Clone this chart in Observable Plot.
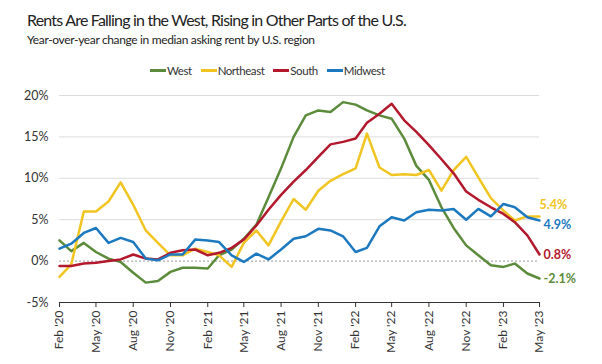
<!DOCTYPE html>
<html>
<head>
<meta charset="utf-8">
<script src="https://cdn.jsdelivr.net/npm/d3@7"></script>
<script src="https://cdn.jsdelivr.net/npm/@observablehq/plot@0.6"></script>
<style>
  body { margin: 0; background: #fff; }
  #chart { width: 602px; height: 364px; position: relative; overflow: hidden; font-family: Lato, "Open Sans", sans-serif; color: #222; }
  #header { position: relative; height: 82px; }
  #title { position: absolute; left: 27px; top: 10px; font-size: 16px; white-space: nowrap; letter-spacing: -0.8px; }
  #subtitle { position: absolute; left: 27px; top: 32px; font-size: 12px; white-space: nowrap; letter-spacing: -0.35px; color: #222; }
  #legend { position: absolute; left: 150px; top: 64px; display: flex; gap: 9px; font-size: 11.5px; letter-spacing: -0.45px; color: #333; white-space: nowrap; }
  .item { display: flex; align-items: center; }
  .sw { display: inline-block; width: 16px; height: 3px; margin-right: 1px; }
  svg { display: block; }
</style>
</head>
<body>
<div id="chart">
  <div id="header">
    <div id="title"></div>
    <div id="subtitle"></div>
    <div id="legend"></div>
  </div>
  <div id="plot"></div>
</div>
<script>
// ---- data ----
const titleText = "Rents Are Falling in the West, Rising in Other Parts of the U.S.";
const subtitleText = "Year-over-year change in median asking rent by U.S. region";
const regions = ["West", "Northeast", "South", "Midwest"];
const colors = ["#5b8b3b", "#f1c521", "#b3182d", "#1c79bf"];
const firstMonth = [2020, 1]; // Feb 2020 (UTC month index)
const west = [2.5, 1.2, 2.2, 1.1, 0.3, -0.1, -1.4, -2.6, -2.4, -1.3, -0.8, -0.8, -0.9, 0.7, 1.4, 2.7, 4.4, 7.7, 11.2, 15.0, 17.6, 18.2, 18.0, 19.2, 18.9, 18.2, 17.6, 17.2, 14.8, 11.5, 9.8, 6.5, 4.0, 1.9, 0.7, -0.5, -0.7, -0.3, -1.5, -2.1];
const northeast = [-1.9, -0.4, 6.0, 6.0, 7.2, 9.5, 6.8, 3.7, 2.2, 0.7, 0.7, 1.5, 1.1, 0.7, -0.7, 2.2, 3.7, 1.9, 4.8, 7.5, 6.2, 8.5, 9.7, 10.5, 11.2, 15.4, 11.3, 10.4, 10.5, 10.4, 11.0, 8.5, 11.0, 12.6, 10.1, 7.6, 6.1, 4.9, 5.4, 5.4];
const south = [-0.6, -0.6, -0.3, -0.2, 0.0, 0.2, 0.8, 0.3, 0.2, 1.0, 1.3, 1.4, 0.7, 1.0, 1.6, 2.6, 4.3, 6.2, 8.0, 9.6, 11.0, 12.6, 14.1, 14.4, 14.8, 16.7, 17.8, 19.0, 17.0, 15.6, 14.0, 12.3, 10.6, 8.4, 7.4, 6.5, 5.7, 4.7, 3.1, 0.8];
const midwest = [1.5, 2.1, 3.4, 4.0, 2.2, 2.8, 2.3, 0.3, 0.1, 0.8, 0.8, 2.6, 2.5, 2.3, 0.7, -0.1, 0.9, 0.2, 1.4, 2.7, 3.0, 3.9, 3.7, 3.0, 1.1, 1.6, 4.2, 5.3, 4.9, 5.9, 6.2, 6.1, 6.3, 5.0, 6.3, 5.4, 6.9, 6.5, 5.3, 4.9];
const endLabels = ["-2.1%", "5.4%", "0.8%", "4.9%"];
const tickLabels = ["Feb '20","May '20","Aug '20","Nov '20","Feb '21","May '21","Aug '21","Nov '21","Feb '22","May '22","Aug '22","Nov '22","Feb '23","May '23"];
const yTicks = [-5, 0, 5, 10, 15, 20];
const gridValues = [5, 10, 15, 20];

// ---- build table ----
const series = [west, northeast, south, midwest];
const months = west.map((_, i) => new Date(Date.UTC(firstMonth[0], firstMonth[1] + i, 1)));
const rows = [];
regions.forEach((r, k) => series[k].forEach((v, i) => rows.push({region: r, date: months[i], value: v})));
const last = regions.map((r, k) => ({region: r, date: months[months.length - 1], value: series[k][series[k].length - 1], label: endLabels[k]}));
const tickDates = tickLabels.map((_, j) => months[j * 3]);
const labelOf = new Map(tickDates.map((d, j) => [+d, tickLabels[j]]));

document.getElementById("title").textContent = titleText;
document.getElementById("subtitle").textContent = subtitleText;
const legend = document.getElementById("legend");
regions.forEach((r, k) => {
  const it = document.createElement("span"); it.className = "item";
  const sw = document.createElement("span"); sw.className = "sw"; sw.style.background = colors[k];
  it.appendChild(sw); it.appendChild(document.createTextNode(r));
  legend.appendChild(it);
});

const colorOf = new Map(regions.map((r, k) => [r, colors[k]]));

const plot = Plot.plot({
  width: 602,
  height: 282,
  marginLeft: 59,
  marginRight: 63,
  marginTop: 13,
  marginBottom: 62,
  style: {fontFamily: "Lato, 'Open Sans', sans-serif", fontSize: "12px", color: "#333", background: "#fff"},
  x: {type: "utc", domain: [months[0], months[months.length - 1]]},
  y: {domain: [-5, 20]},
  color: {domain: regions, range: colors},
  marks: [
    Plot.ruleY(gridValues, {stroke: "#dcdcdc", strokeWidth: 1}),
    Plot.ruleY([0], {stroke: "#999", strokeDasharray: "2,2", strokeWidth: 1}),
    Plot.ruleY([-5], {stroke: "#333", strokeWidth: 1.2}),
    Plot.axisY({ticks: yTicks, tickSize: 0, tickPadding: 11, tickFormat: d => d + "%", fontSize: 12.5, fill: "#333", label: null}),
    Plot.axisX({ticks: tickDates, tickSize: 5, tickPadding: 3, tickRotate: -90, tickFormat: d => labelOf.get(+d), fontSize: 12, fill: "#333", stroke: "#333", label: null}),
    Plot.lineY(rows, {x: "date", y: "value", z: "region", stroke: "region", strokeWidth: 2.5, strokeLinejoin: "round"}),
    Plot.text(last.filter(d => d.region === "Northeast"), {x: "date", y: "value", text: "label", fill: d => colorOf.get(d.region), textAnchor: "start", dx: 0, dy: -11, fontWeight: "bold", fontSize: 12.5}),
    Plot.text(last.filter(d => d.region === "Midwest"), {x: "date", y: "value", text: "label", fill: d => colorOf.get(d.region), textAnchor: "start", dx: 4, dy: 4, fontWeight: "bold", fontSize: 12.5}),
    Plot.text(last.filter(d => d.region === "South" || d.region === "West"), {x: "date", y: "value", text: "label", fill: d => colorOf.get(d.region), textAnchor: "start", dx: 4, dy: 1, fontWeight: "bold", fontSize: 12.5})
  ]
});
document.getElementById("plot").appendChild(plot);
</script>
</body>
</html>
